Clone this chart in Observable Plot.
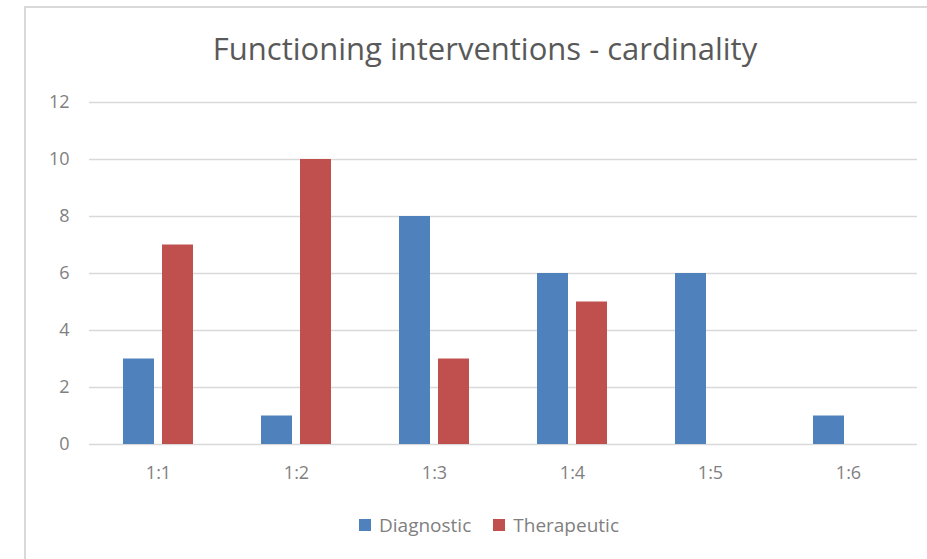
<!DOCTYPE html>
<html>
<head>
<meta charset="utf-8">
<script src="https://cdn.jsdelivr.net/npm/d3@7"></script>
<script src="https://cdn.jsdelivr.net/npm/@observablehq/plot@0.6"></script>
<style>
  html, body { margin: 0; padding: 0; background: #fff; width: 927px; height: 559px; overflow: hidden; }
  #page { position: relative; width: 927px; height: 559px; overflow: hidden; font-family: "Open Sans", sans-serif; }
  #box { position: absolute; left: 24px; top: 6px; width: 1000px; height: 700px; border-left: 2px solid #d9d9d9; border-top: 2px solid #d9d9d9; box-sizing: border-box; }
  #title { position: absolute; left: 0; width: 970px; top: 28px; text-align: center; font-size: 31px; color: #595959; line-height: 40px; white-space: nowrap; }
  #chart { position: absolute; left: 0; top: 80px; }
  #legend { position: absolute; left: 0; width: 978px; top: 511px; display: flex; justify-content: center; gap: 22px; font-size: 19px; color: #7f7f7f; line-height: 28px; }
  .item { display: flex; align-items: center; gap: 8px; }
  .sw { width: 12px; height: 12px; display: inline-block; }
</style>
</head>
<body>
<div id="page">
  <div id="box"></div>
  <div id="title">Functioning interventions - cardinality</div>
  <div id="chart"></div>
  <div id="legend"></div>
</div>
<script>
const categories = ["1:1", "1:2", "1:3", "1:4", "1:5", "1:6"];
const diagnostic = [3, 1, 8, 6, 6, 1];
const therapeutic = [7, 10, 3, 5, 0, 0];
const series = ["Diagnostic", "Therapeutic"];
const colors = ["#4F81BD", "#C0504D"];
const yTicks = [0, 2, 4, 6, 8, 10, 12];

const data = categories.flatMap((c, i) => [
  {cat: c, series: series[0], value: diagnostic[i]},
  {cat: c, series: series[1], value: therapeutic[i]}
]);

const chart = Plot.plot({
  width: 927,
  height: 420,
  marginTop: 22,
  marginBottom: 56,
  marginLeft: 86,
  marginRight: 8,
  style: {fontFamily: "Open Sans, sans-serif", fontSize: "18px", color: "#7f7f7f", background: "transparent", overflow: "visible"},
  fx: {domain: categories, padding: 0, label: null},
  x: {domain: series, axis: null, paddingInner: 0.2, paddingOuter: 0.835},
  y: {domain: [0, 12], label: null},
  color: {domain: series, range: colors},
  marks: [
    Plot.ruleY(yTicks, {stroke: "#d9d9d9", strokeWidth: 1.5}),
    Plot.barY(data, {fx: "cat", x: "series", y: "value", fill: "series"}),
    Plot.axisY({ticks: yTicks, tickSize: 0, tickPadding: 20, label: null}),
    Plot.axisFx({anchor: "bottom", tickSize: 0, tickPadding: 22, label: null})
  ]
});
document.getElementById("chart").appendChild(chart);

const legend = document.getElementById("legend");
series.forEach((s, i) => {
  const it = document.createElement("div");
  it.className = "item";
  const sw = document.createElement("span");
  sw.className = "sw";
  sw.style.background = colors[i];
  const t = document.createElement("span");
  t.textContent = s;
  it.appendChild(sw);
  it.appendChild(t);
  legend.appendChild(it);
});
</script>
</body>
</html>
